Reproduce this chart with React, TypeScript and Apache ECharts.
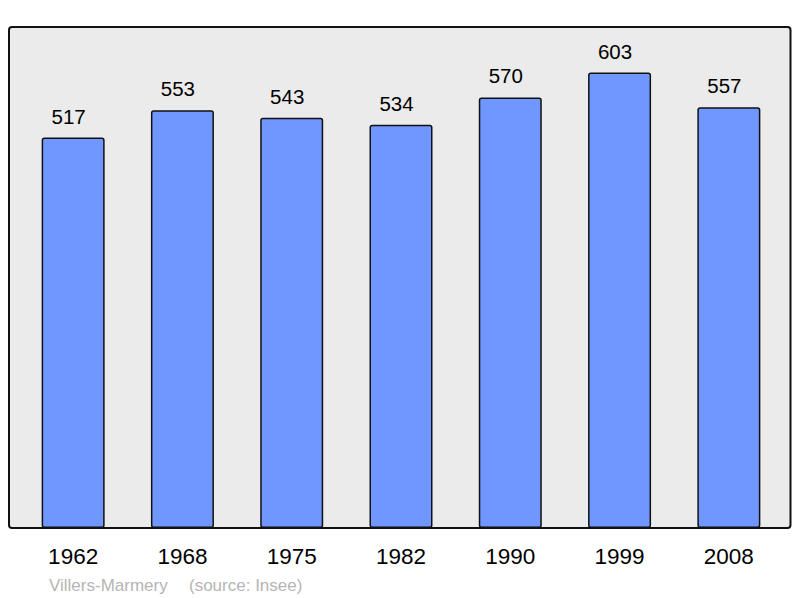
import React, { useEffect, useRef } from "react";
import * as echarts from "echarts";

const years = ["1962", "1968", "1975", "1982", "1990", "1999", "2008"];
const population = [517, 553, 543, 534, 570, 603, 557];
const placeName = "Villers-Marmery";
const sourceText = "(source: Insee)";

const FONT = "'Liberation Sans', Arial, Helvetica, sans-serif";

export default function App() {
  const ref = useRef<HTMLDivElement>(null);
  useEffect(() => {
    if (!ref.current) return;
    const chart = echarts.init(ref.current, undefined, { renderer: "svg" });
    const maxVal = Math.max(...population) * 1.1;
    chart.setOption({
      animation: false,
      textStyle: { fontFamily: FONT },
      grid: { left: 18.5, top: 27, width: 765, height: 501, containLabel: false },
      graphic: [
        {
          type: "rect",
          z: -10,
          silent: true,
          shape: { x: 9, y: 27, width: 781.5, height: 501, r: 3 },
          style: { fill: "#ebebeb", stroke: "#111111", lineWidth: 2 },
        },
        {
          type: "text",
          x: 49,
          y: 585,
          style: {
            text: placeName,
            fontSize: 17,
            fontFamily: FONT,
            fill: "#b5b5b5",
            verticalAlign: "middle",
            align: "left",
          },
        },
        {
          type: "text",
          x: 189,
          y: 585,
          style: {
            text: sourceText,
            fontSize: 17,
            fontFamily: FONT,
            fill: "#b5b5b5",
            verticalAlign: "middle",
            align: "left",
          },
        },
      ],
      xAxis: {
        type: "category",
        data: years,
        axisLine: { show: false },
        axisTick: { show: false },
        splitLine: { show: false },
        axisLabel: { fontSize: 22.5, color: "#000", margin: 17, fontFamily: FONT },
      },
      yAxis: {
        type: "value",
        min: 0,
        max: maxVal,
        show: false,
        splitLine: { show: false },
      },
      series: [
        {
          type: "bar",
          data: population,
          barWidth: 63,
          itemStyle: {
            color: "#7096ff",
            borderColor: "#111111",
            borderWidth: 1.5,
            borderRadius: 2,
          },
          label: {
            show: true,
            position: "top",
            distance: 11,
            offset: [-4.5, 0],
            fontSize: 20.5,
            color: "#000",
            fontFamily: FONT,
          },
        },
      ],
    });
    return () => chart.dispose();
  }, []);
  return (
    <div
      ref={ref}
      style={{ position: "fixed", left: 0, top: 0, width: 800, height: 598, background: "#fff" }}
    />
  );
}
